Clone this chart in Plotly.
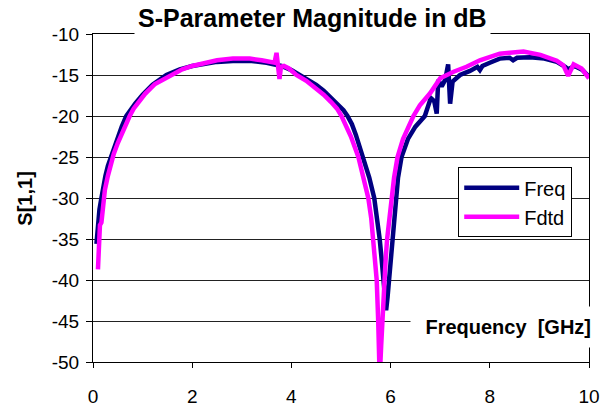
import plotly.graph_objects as go

# ---- data ----
freq_x = [0.07, 0.10, 0.13, 0.17, 0.21, 0.25, 0.30, 0.36, 0.43, 0.50, 0.58, 0.67, 0.76,
          0.85, 1.00, 1.20, 1.48, 1.75, 2.00, 2.25, 2.50, 2.90, 3.20, 3.50, 3.80, 4.00,
          4.17, 4.35, 4.50, 4.65, 4.80, 4.95, 5.05, 5.13, 5.22, 5.30, 5.45, 5.57, 5.67,
          5.73, 5.78, 5.82, 5.85, 5.88, 5.91, 5.94, 5.97, 6.00, 6.03, 6.06, 6.10, 6.15,
          6.22, 6.35, 6.50, 6.69, 6.81, 6.88, 6.93, 6.96, 7.03, 7.10, 7.16, 7.20, 7.25,
          7.40, 7.60, 7.75, 7.80, 7.85, 8.00, 8.20, 8.40, 8.47, 8.55, 8.81, 9.10, 9.35,
          9.52, 9.58, 9.71, 9.87, 10.0]
freq_y = [-35.6, -33.0, -31.4, -30.0, -28.5, -27.3, -26.1, -25.0, -23.7, -22.6, -21.3,
          -20.0, -19.2, -18.5, -17.4, -16.2, -15.0, -14.3, -13.9, -13.6, -13.4, -13.25,
          -13.3, -13.5, -13.9, -14.4, -15.0, -15.6, -16.2, -16.9, -17.8, -18.6, -19.3,
          -20.0, -21.0, -22.3, -25.0, -27.5, -30.0, -32.5, -35.0, -37.5, -40.0, -42.0,
          -43.7, -42.0, -40.0, -37.5, -35.0, -32.5, -30.0, -27.5, -25.0, -22.8, -21.3,
          -20.0, -17.8, -18.2, -19.7, -15.6, -16.4, -15.6, -13.7, -18.5, -15.8, -15.0,
          -14.5, -14.0, -14.4, -13.9, -13.5, -13.0, -12.9, -13.2, -12.9, -12.85, -13.0,
          -13.4, -14.0, -14.3, -13.9, -14.4, -15.2]

fdtd_x = [0.10, 0.12, 0.14, 0.17, 0.20, 0.24, 0.30, 0.37, 0.42, 0.50, 0.60, 0.74, 0.82,
          0.90, 1.05, 1.25, 1.58, 1.80, 2.00, 2.25, 2.50, 2.82, 3.16, 3.40, 3.60, 3.66,
          3.70, 3.73, 3.76, 3.79, 3.85, 3.95, 4.10, 4.30, 4.50, 4.65, 4.80, 4.92, 5.01,
          5.10, 5.20, 5.35, 5.46, 5.55, 5.61, 5.65, 5.69, 5.72, 5.75, 5.78, 5.81, 5.83,
          5.87, 5.90, 5.93, 5.97, 6.02, 6.07, 6.14, 6.25, 6.46, 6.59, 6.80, 6.90, 6.95,
          7.00, 7.27, 7.53, 7.80, 8.00, 8.20, 8.40, 8.68, 9.02, 9.35, 9.48, 9.58, 9.69,
          9.85, 10.0]
fdtd_y = [-38.7, -34.5, -33.3, -33.0, -30.5, -29.0, -27.3, -25.6, -24.6, -23.3, -21.8,
          -20.0, -19.1, -18.4, -17.3, -16.1, -15.0, -14.3, -13.9, -13.5, -13.2, -13.0,
          -13.0, -13.2, -13.5, -13.5, -12.3, -13.8, -15.5, -14.0, -13.9, -14.2, -15.0,
          -15.7, -16.6, -17.4, -18.3, -19.1, -20.0, -21.1, -22.5, -25.0, -27.5, -30.0,
          -32.5, -35.0, -37.5, -40.0, -45.0, -52.0, -48.0, -45.0, -40.0, -37.5, -35.0,
          -32.5, -30.0, -27.5, -25.0, -22.8, -20.0, -18.7, -17.2, -16.2, -15.8, -15.4,
          -14.6, -14.0, -13.2, -12.8, -12.4, -12.3, -12.15, -12.55, -13.25, -13.8,
          -15.1, -13.7, -14.2, -15.4]

series_names = ["Freq", "Fdtd"]
title_text = "S-Parameter Magnitude in dB"
x_title = "Frequency  [GHz]"
y_title = "S[1,1]"
x_ticks = [0, 2, 4, 6, 8, 10]
y_ticks = [-50, -45, -40, -35, -30, -25, -20, -15, -10]
y_tick_text = ["-50", "-45", "-40", "-35", "-30", "-25", "-20", "-15", "-10"]

FONT = "Liberation Sans, Arial, sans-serif"

# plot area in pixels
PX0, PX1, PY0, PY1 = 93.3, 589.0, 34.0, 362.0


def px(x):
    return (x - PX0) / (PX1 - PX0)


def py(y):
    return (PY1 - y) / (PY1 - PY0)


fig = go.Figure()
fig.add_trace(go.Scatter(x=freq_x, y=freq_y, mode="lines", name=series_names[0],
                         line=dict(color="#000080", width=4.5)))
fig.add_trace(go.Scatter(x=fdtd_x, y=fdtd_y, mode="lines", name=series_names[1],
                         line=dict(color="#FF00FF", width=4.5)))

fig.update_layout(
    width=600, height=408,
    margin=dict(l=93, r=11, t=34, b=46, autoexpand=False),
    paper_bgcolor="white", plot_bgcolor="white",
    font=dict(family=FONT, size=19, color="black"),
    showlegend=True,
    legend=dict(x=px(458.3), y=py(167.3), xanchor="left", yanchor="top",
                bgcolor="white", bordercolor="black", borderwidth=1,
                itemwidth=55,
                font=dict(family=FONT, size=20, color="black")),
    xaxis=dict(range=[0, 10], tickvals=x_ticks, ticks="outside", ticklen=5,
               tickcolor="black", showline=True, linecolor="black", linewidth=1,
               mirror=True, showgrid=False, zeroline=False, automargin=False,
               ticklabelstandoff=12,
               tickfont=dict(family=FONT, size=19, color="black")),
    yaxis=dict(range=[-50, -10], tickvals=y_ticks, ticktext=y_tick_text,
               ticks="outside", ticklen=6,
               tickcolor="black", showline=True, linecolor="black", linewidth=1,
               mirror=True, showgrid=True, gridcolor="#222222", gridwidth=1,
               zeroline=False, automargin=False, ticklabelstandoff=3,
               tickfont=dict(family=FONT, size=19, color="black")),
)

fig.add_annotation(text="<b>" + title_text + "</b>", xref="paper", yref="paper",
                   x=px(313), y=py(36), xanchor="center", yanchor="bottom",
                   showarrow=False, bgcolor="white", borderpad=3,
                   font=dict(family=FONT, size=25, color="black"))
fig.add_annotation(text="<b>" + x_title + "</b>", xref="paper", yref="paper",
                   x=px(592), y=py(327), xanchor="right",
                   yanchor="middle", showarrow=False, bgcolor="white", borderpad=0,
                   width=180, height=40, align="right",
                   font=dict(family=FONT, size=20, color="black"))
fig.add_annotation(text="<b>" + y_title + "</b>", xref="paper", yref="paper",
                   x=px(25), y=py(199), xanchor="center", yanchor="middle",
                   textangle=-90, showarrow=False,
                   font=dict(family=FONT, size=20, color="black"))

fig.write_html("out.html")
